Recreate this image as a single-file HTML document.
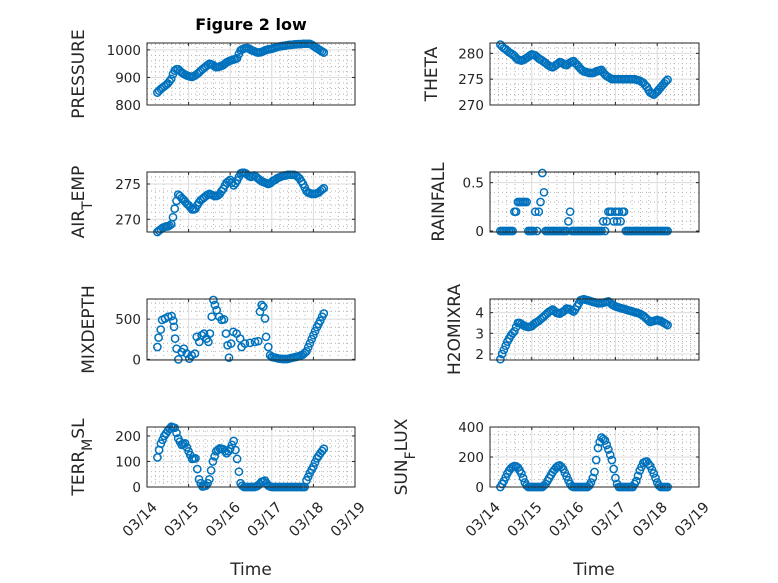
<!DOCTYPE html>
<html><head><meta charset="utf-8"><style>
html,body{margin:0;padding:0;background:#fff;}
svg{display:block;font-family:"DejaVu Sans","Liberation Sans",sans-serif;}
</style></head><body>
<svg id="fig" width="778" height="583" viewBox="0 0 778 583" xmlns="http://www.w3.org/2000/svg"></svg>
<script>
const dayTicks = ["03/14","03/15","03/16","03/17","03/18","03/19"];
const hours = [6,7,8,9,10,11,12,13,14,15,16,17,18,19,20,21,22,23,24,25,26,27,28,29,30,31,32,33,34,35,36,37,38,39,40,41,42,43,44,45,46,47,48,49,50,51,52,53,54,55,56,57,58,59,60,61,62,63,64,65,66,67,68,69,70,71,72,73,74,75,76,77,78,79,80,81,82,83,84,85,86,87,88,89,90,91,92,93,94,95,96,97,98,99,100,101,102];
const pressureVals = [845,852,858,863,868,873,878,886,895,912,925,930,930,924,918,914,910,907,905,903,902,905,908,913,918,924,930,935,940,945,950,948,945,940,937,938,940,942,945,950,955,958,961,963,965,967,970,985,998,1002,1005,1006,1007,1004,1000,997,995,992,990,991,992,995,998,1000,1002,1003,1004,1006,1008,1010,1012,1013,1014,1015,1016,1017,1018,1018,1019,1020,1020,1021,1021,1021,1022,1022,1022,1022,1022,1019,1015,1010,1006,1002,998,994,990];
const thetaVals = [281.7,281.3,281.0,280.8,280.5,280.2,280.0,279.8,279.5,279.1,278.8,278.7,278.6,278.7,278.9,279.1,279.3,279.6,279.8,279.7,279.6,279.3,279.0,278.8,278.6,278.3,278.1,277.8,277.6,277.4,277.3,277.5,277.8,278.0,278.3,278.2,278.0,277.8,277.7,278.0,278.2,278.4,278.5,278.1,277.8,277.4,277.0,276.7,276.5,276.4,276.3,276.2,276.2,276.2,276.3,276.5,276.6,276.7,276.8,276.3,275.9,275.6,275.4,275.2,275.0,275.0,275.0,275.0,275.0,275.0,275.0,275.0,275.0,275.0,275.0,275.0,275.0,275.0,274.9,274.8,274.7,274.5,274.3,273.9,273.5,272.9,272.4,272.2,272.0,272.3,272.6,273.0,273.4,273.8,274.2,274.6,274.9];
const airTempVals = [268.2,268.4,268.6,268.8,268.9,269.0,269.0,269.1,269.3,270.3,271.5,272.6,273.5,273.3,273.0,272.8,272.5,272.2,272.0,271.7,271.4,271.4,271.5,272.0,272.4,272.7,272.9,273.1,273.3,273.5,273.6,273.5,273.4,273.3,273.3,273.4,273.6,274.0,274.3,274.8,275.2,275.4,275.6,275.2,274.8,275.1,275.5,276.0,276.5,276.6,276.6,276.5,276.3,276.1,276.0,276.1,276.2,276.0,275.8,275.6,275.4,275.3,275.2,275.1,275.0,275.1,275.3,275.5,275.6,275.8,275.9,276.0,276.1,276.2,276.2,276.3,276.3,276.3,276.3,276.3,276.2,276.0,275.8,275.4,275.0,274.5,274.0,273.8,273.7,273.6,273.6,273.6,273.7,273.8,274.0,274.2,274.4];
const rainVals = [0,0,0,0,0,0,0,0,0.2,0.2,0.3,0.3,0.3,0.3,0.3,0.3,0,0,0,0,0.2,0,0.2,0.3,0.6,0.4,0,0,0,0,0,0,0,0,0,0,0,0,0,0.1,0.2,0,0,0,0,0,0,0,0,0,0,0,0,0,0,0,0,0,0,0.1,0,0.1,0.2,0.2,0.2,0.1,0.2,0.1,0.2,0.1,0.2,0.2,0,0,0,0,0,0,0,0,0,0,0,0,0,0,0,0,0,0,0,0,0,0,0,0,0];
const mixHours = [6,6.7,7.9,8.7,10.4,12.3,14.2,15.2,15.6,16.2,17.1,18.1,20,21.3,22.9,24.4,25.8,27.7,28.7,30.2,31.5,32.9,34.4,35.4,36.3,37.3,38.3,39.2,40.2,41.7,43.1,44.4,45.6,46.5,47.3,48.5,49.8,51.7,53.7,54.6,56.5,59.4,62.3,64.2,65.2,66.2,67.1,68.1,68.7,70,71,72,73,74,75,76,77,78,79,80,81,82,83,84,85,86,87,88,89,90,91,92,93,94,95,96,97,98,99,100,101,102];
const mixVals = [154,270,370,490,508,530,537,480,404,258,133,0,92,133,71,8,50,71,280,217,300,320,258,217,320,530,737,675,612,530,490,496,320,175,20,196,342,320,258,154,196,204,217,225,592,675,654,508,280,154,50,30,25,20,15,10,8,5,5,5,5,10,15,20,25,30,35,40,50,60,80,100,150,200,250,300,350,400,440,480,530,570];
const h2oVals = [1.75,2.0,2.2,2.4,2.6,2.75,2.9,3.0,3.1,3.3,3.5,3.5,3.45,3.4,3.35,3.32,3.3,3.32,3.35,3.42,3.5,3.55,3.6,3.68,3.75,3.82,3.9,3.98,4.05,4.1,4.15,4.08,4.0,3.97,3.95,4.0,4.05,4.12,4.2,4.18,4.15,4.1,4.05,4.15,4.3,4.45,4.6,4.63,4.65,4.62,4.6,4.58,4.55,4.52,4.5,4.48,4.45,4.45,4.45,4.48,4.5,4.52,4.55,4.48,4.4,4.35,4.3,4.28,4.25,4.22,4.2,4.18,4.15,4.12,4.1,4.08,4.05,4.02,4.0,3.98,3.95,3.9,3.85,3.78,3.7,3.62,3.55,3.58,3.6,3.62,3.65,3.62,3.6,3.55,3.5,3.45,3.4];
const terrVals = [116,145,170,185,200,210,220,228,236,234,232,212,190,178,165,168,171,155,140,125,110,111,112,70,30,15,2,3,5,15,30,65,100,120,140,146,151,150,148,140,132,140,150,165,180,145,110,60,15,5,0,0,0,0,0,0,0,2,5,12,20,22,25,15,5,2,0,0,0,0,0,0,0,0,0,0,0,0,0,0,0,0,0,0,0,0,26,40,55,68,80,96,112,122,132,141,150];
const sunVals = [0,20,40,65,90,110,125,135,140,137,130,110,90,60,30,10,0,0,0,0,0,0,0,0,0,10,20,40,60,80,100,115,130,140,145,135,120,95,70,45,20,5,0,0,0,0,0,0,0,0,0,10,30,60,100,180,260,300,330,320,310,280,250,215,180,120,60,20,0,0,0,0,0,0,0,0,0,20,40,75,110,135,160,168,170,155,140,115,90,60,30,10,0,0,0,0,0];

const NS="http://www.w3.org/2000/svg";
const svg=document.getElementById('fig');
function mk(tag,attrs,parent){const e=document.createElementNS(NS,tag);for(const k in attrs)e.setAttribute(k,attrs[k]);(parent||svg).appendChild(e);return e;}

const L={x:147,w:208}, R={x:490,w:209};
const rows=[[43,105],[172,232],[299,360],[427,487]];
const panels=[
 {name:'pressure',col:L,row:0,ymin:800,ymax:1025,yt:[800,900,1000],ym:20,xs:hours,ys:pressureVals,label:'PRESSURE',lx:84},
 {name:'theta',col:R,row:0,ymin:270,ymax:282,yt:[270,275,280],ym:1,xs:hours,ys:thetaVals,label:'THETA',lx:437},
 {name:'air-temp',col:L,row:1,ymin:268.2,ymax:276.7,yt:[270,275],ym:1,xs:hours,ys:airTempVals,label:'AIR',sub:'T',rest:'EMP',lx:84},
 {name:'rainfall',col:R,row:1,ymin:-0.01,ymax:0.61,yt:[0,0.5],ym:0.1,xs:hours,ys:rainVals,label:'RAINFALL',lx:444},
 {name:'mixdepth',col:L,row:2,ymin:-8,ymax:750,yt:[0,500],ym:100,xs:mixHours,ys:mixVals,label:'MIXDEPTH',lx:94},
 {name:'h2omixra',col:R,row:2,ymin:1.71,ymax:4.66,yt:[2,3,4],ym:0.2,xs:hours,ys:h2oVals,label:'H2OMIXRA',lx:460},
 {name:'terr-msl',col:L,row:3,ymin:0,ymax:235,yt:[0,100,200],ym:20,xs:hours,ys:terrVals,label:'TERR',sub:'M',rest:'SL',lx:84},
 {name:'sun-flux',col:R,row:3,ymin:0,ymax:400,yt:[0,200,400],ym:50,xs:hours,ys:sunVals,label:'SUN',sub:'F',rest:'LUX',lx:407},
];
const TXT='#262626', BLUE='#0072BD';

panels.forEach(p=>{
 const x0=p.col.x,w=p.col.w,y0=rows[p.row][0],y1=rows[p.row][1];
 const sx=h=>x0+(h/24)/5*w;
 const sy=v=>y1-(v-p.ymin)/(p.ymax-p.ymin)*(y1-y0);
 const g=mk('g',{});
 
 
 for(let d=0.2;d<5;d+=0.2){ if(Math.abs(d-Math.round(d))<0.01) continue; const X=x0+d/5*w; mk('line',{x1:X,x2:X,y1:y0,y2:y1,stroke:'#b5b5b5','stroke-width':1,'stroke-dasharray':'1,3'},g);}
 const start=Math.ceil(p.ymin/p.ym)*p.ym;
 for(let v=start;v<=p.ymax+1e-9;v+=p.ym){ if(p.yt.some(t=>Math.abs(t-v)<1e-6))continue; const Y=sy(v); mk('line',{x1:x0,x2:x0+w,y1:Y,y2:Y,stroke:'#b5b5b5','stroke-width':1,'stroke-dasharray':'1,3'},g);}
 for(let d=1;d<5;d++){const X=x0+d/5*w; mk('line',{x1:X,x2:X,y1:y0,y2:y1,stroke:'#dcdcdc','stroke-width':1},g);}
 p.yt.forEach(v=>{const Y=sy(v); mk('line',{x1:x0,x2:x0+w,y1:Y,y2:Y,stroke:'#dcdcdc','stroke-width':1},g);
   const t=mk('text',{x:x0-6,y:Y+5,'text-anchor':'end','font-size':'13.5',fill:TXT},g); t.textContent=String(v);
    
   mk('line',{x1:x0,x2:x0+3,y1:Y,y2:Y,stroke:TXT},g); mk('line',{x1:x0+w,x2:x0+w-3,y1:Y,y2:Y,stroke:TXT},g);});
 for(let d=0;d<=5;d++){const X=x0+d/5*w; mk('line',{x1:X,x2:X,y1:y1,y2:y1-3,stroke:TXT},g); mk('line',{x1:X,x2:X,y1:y0,y2:y0+3,stroke:TXT},g);
   if(p.row===3){const ax=X+11, ay=y1+21; const t=mk('text',{x:ax,y:ay,'text-anchor':'end','font-size':'14.5',fill:TXT,transform:`rotate(-45 ${ax} ${ay})`},g); t.textContent=dayTicks[d];
      }}
 const dg=mk('g',{fill:'none',stroke:BLUE,'stroke-width':1.5},g);
  
 const n=Math.min(p.xs.length,p.ys.length);
 for(let i=0;i<n;i++){const c=mk('circle',{cx:sx(p.xs[i]).toFixed(1),cy:sy(p.ys[i]).toFixed(1),r:3.6},dg);
    }
 mk('rect',{x:x0,y:y0,width:w,height:y1-y0,fill:'none',stroke:TXT,'stroke-width':1},g);
 const cy=(y0+y1)/2;
 const t=mk('text',{x:p.lx,y:cy,'text-anchor':'middle','font-size':'17',fill:TXT,transform:`rotate(-90 ${p.lx} ${cy})`},g);
  
 if(p.sub){t.appendChild(document.createTextNode(p.label));const s=mk('tspan',{'baseline-shift':'sub','font-size':'14'},t);s.textContent=p.sub;const r=mk('tspan',{'baseline-shift':'0'},t);r.textContent=p.rest;}
 else t.textContent=p.label;
});
const title=mk('text',{x:251,y:30,'text-anchor':'middle','font-size':'16','font-weight':'bold',fill:'#000'});
title.textContent='Figure 2 low';
 
[251,594].forEach(x=>{const t=mk('text',{x:x,y:575,'text-anchor':'middle','font-size':'17',fill:TXT});t.textContent='Time';
  });
</script>
</body></html>
